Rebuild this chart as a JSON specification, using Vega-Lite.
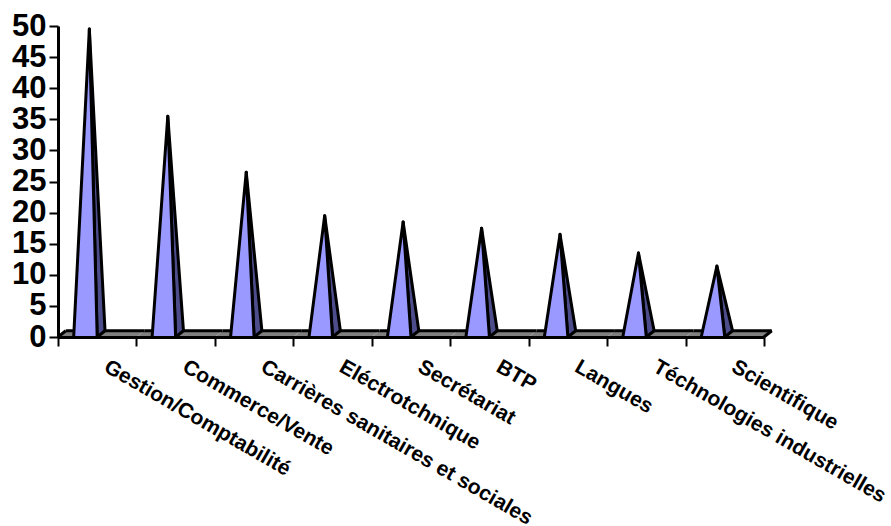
{
"$schema":"https://vega.github.io/schema/vega-lite/v6.json",
"autosize":"none","padding":{"left":58,"top":26,"right":127,"bottom":189},
"width":706,"height":311,"background":"white",
"config":{"view":{"stroke":null}},
"data":{"values":[
{"category":"Gestion/Comptabilité","value":49.5},
{"category":"Commerce/Vente","value":35.5},
{"category":"Carrières sanitaires et sociales","value":26.5},
{"category":"Eléctrotchnique","value":19.5},
{"category":"Secrétariat","value":18.5},
{"category":"BTP","value":17.5},
{"category":"Langues","value":16.5},
{"category":"Téchnologies industrielles","value":13.5},
{"category":"Scientifique","value":11.4}
]},
"transform":[
{"fold":["value"],"as":["vertex","y"]},
{"impute":"y","key":"vertex","keyvals":["b","d","e"],"groupby":["category"],"value":1},
{"impute":"y","key":"vertex","keyvals":["a","c","f","w"],"groupby":["category"],"value":0}
],
"encoding":{
"x":{"field":"category","type":"nominal","sort":null,"scale":{"type":"band","paddingInner":0,"paddingOuter":0},
"axis":{"title":null,"labelAngle":30,"labelAlign":"left","labelBaseline":"middle","labelFont":"Liberation Sans","labelFontWeight":"bold","labelFontSize":21,"labelColor":"black","labelPadding":19,"labelOffset":8,"labelOverlap":false,"labelBound":false,"labelLimit":500,"tickBand":"extent","tickSize":9,"tickWidth":2,"tickColor":"black","domainColor":"black","domainWidth":3,"zindex":1}},
"xOffset":{"field":"vertex","type":"nominal","scale":{"type":"point","padding":0,"domain":["c","d","a","s1","value","w","b","s2","s3","s4","f","e"],"range":[0,86.2]}},
"y":{"field":"y","type":"quantitative","scale":{"domain":[0,50],"nice":false},
"axis":{"title":null,"values":[0,5,10,15,20,25,30,35,40,45,50],"labelFont":"Liberation Sans","labelFontWeight":"bold","labelFontSize":31,"labelColor":"black","labelPadding":3,"labelOverlap":false,"labelBound":false,"labelFlush":false,"tickSize":9,"tickWidth":2,"tickColor":"black","domainColor":"black","domainWidth":3,"grid":false,"zindex":1}},
"order":{"field":"vertex","type":"nominal"},
"detail":{"field":"category","type":"nominal"}
},
"layer":[
{"transform":[{"filter":{"field":"vertex","oneOf":["c","d","e","f"]}}],"mark":{"type":"line","fill":"#808080","strokeWidth":0}},
{"transform":[{"filter":{"field":"vertex","oneOf":["d","e"]}}],"mark":{"type":"line","stroke":"black","strokeWidth":3}},
{"transform":[{"filter":{"field":"vertex","oneOf":["c","d"]}},{"filter":{"field":"category","equal":"Gestion/Comptabilité"}}],"mark":{"type":"line","stroke":"black","strokeWidth":3}},
{"transform":[{"filter":{"field":"vertex","oneOf":["e","f"]}},{"filter":{"field":"category","equal":"Scientifique"}}],"mark":{"type":"line","stroke":"black","strokeWidth":3}},
{"transform":[{"filter":{"field":"vertex","oneOf":["b","value","w"]}}],"mark":{"type":"line","fill":"#4d4d8c","stroke":"black","strokeWidth":3,"strokeJoin":"round"}},
{"transform":[{"filter":{"field":"vertex","oneOf":["b","w"]}}],"mark":{"type":"line","stroke":"black","strokeWidth":3}},
{"transform":[{"filter":{"field":"vertex","oneOf":["a","value","w"]}}],"mark":{"type":"line","fill":"#9999ff","stroke":"black","strokeWidth":3,"strokeJoin":"round"}}
]
}
